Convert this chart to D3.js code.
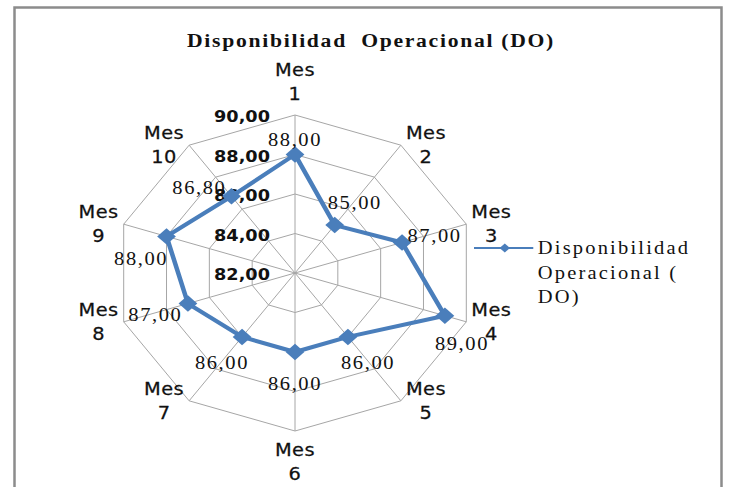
<!DOCTYPE html>
<html>
<head>
<meta charset="utf-8">
<script src="https://cdn.jsdelivr.net/npm/d3@7"></script>
<style>
  html, body { margin: 0; padding: 0; background: #fff; }
  svg { display: block; }
</style>
</head>
<body>
<div id="container"></div>
<script>
const WIDTH = 731,
      HEIGHT = 487;

// data
const months = ["1", "2", "3", "4", "5", "6", "7", "8", "9", "10"];
const values = [88, 85, 87, 89, 86, 86, 86, 87, 88, 86.8];
const ringTicks = [82, 84, 86, 88, 90];
const chartTitle = "Disponibilidad  Operacional (DO)";
const legendLines = ["Disponibilidad", "Operacional (", "DO)"];

const cx = 295, cy = 273, R = 158;
const stretch = 1.14;          // the original picture is drawn wider than tall
const blue = "#4a7ebb";
const grid = "#a6a6a6";
const serif = "'Liberation Serif', 'Times New Roman', serif";

// a few value labels were dragged off their default spot in the original
const labelDir = { 3: 150, 8: 228, 9: 290 };

const fmt = (v) => d3.format(".2f")(v).replace(".", ",");

const svg = d3.select("#container").append("svg")
    .attr("width", WIDTH).attr("height", HEIGHT);

svg.append("rect").attr("width", WIDTH).attr("height", HEIGHT).attr("fill", "#fff");

// outer frame
svg.append("path")
    .attr("d", `M14.5,${HEIGHT + 5} V7.5 H721.5 V${HEIGHT + 5}`)
    .attr("fill", "none")
    .attr("stroke", "#8c8c8c")
    .attr("stroke-width", 2.5);

// title
svg.append("g")
    .attr("transform", `translate(371, 47) scale(${stretch},1)`)
  .append("text")
    .attr("text-anchor", "middle")
    .attr("font-family", serif)
    .attr("font-weight", "bold")
    .attr("font-size", 19)
    .attr("letter-spacing", 1.5)
    .attr("fill", "#111")
    .style("white-space", "pre")
    .text(chartTitle);

const chart = svg.append("g")
    .attr("transform", `translate(${cx}, ${cy}) scale(${stretch},1)`);

const step = 2 * Math.PI / months.length;
const rScale = d3.scaleLinear()
    .domain([ringTicks[0], ringTicks[ringTicks.length - 1]])
    .range([0, R]);

// rings
const ringLine = d3.lineRadial()
    .angle((d, i) => i * step)
    .radius((d) => rScale(d))
    .curve(d3.curveLinearClosed);

chart.selectAll(".ring")
    .data(ringTicks.slice(1))
    .join("path")
    .attr("class", "ring")
    .attr("d", (t) => ringLine(months.map(() => t)))
    .attr("fill", "none")
    .attr("stroke", grid)
    .attr("stroke-width", 1)
    .attr("vector-effect", "non-scaling-stroke");

// spokes
chart.selectAll(".spoke")
    .data(months)
    .join("line")
    .attr("class", "spoke")
    .attr("x1", 0).attr("y1", 0)
    .attr("x2", (d, i) => Math.sin(i * step) * R)
    .attr("y2", (d, i) => -Math.cos(i * step) * R)
    .attr("stroke", grid)
    .attr("stroke-width", 1)
    .attr("vector-effect", "non-scaling-stroke");

// radial tick labels, left of the first spoke
chart.selectAll(".tick")
    .data(ringTicks)
    .join("text")
    .attr("class", "tick")
    .attr("x", -22)
    .attr("y", (t) => -rScale(t) + 2)
    .attr("dy", "0.35em")
    .attr("text-anchor", "end")
    .attr("font-family", "'DejaVu Sans', sans-serif")
    .attr("font-weight", "bold")
    .attr("font-size", 15.5)
    .attr("fill", "#111")
    .text(fmt);

// category labels
chart.selectAll(".cat")
    .data(months)
    .join("text")
    .attr("class", "cat")
    .attr("font-family", "'DejaVu Sans', sans-serif")
    .attr("font-size", 17)
    .attr("letter-spacing", 0.4)
    .attr("fill", "#111")
    .attr("stroke", "#111")
    .attr("stroke-width", 0.25)
    .attr("text-anchor", "middle")
    .each(function (d, i) {
        const a = i * step, s = Math.sin(a), c = Math.cos(a);
        let x = s * R, y = -c * R;
        if (Math.abs(s) < 0.01) {
            y += c > 0 ? -33 : 31;
        } else {
            x += Math.sign(s) * 22;
        }
        const t = d3.select(this);
        t.append("tspan").attr("x", x).attr("y", y - 12).attr("dy", "0.35em").text("Mes");
        t.append("tspan").attr("x", x).attr("y", y + 12).attr("dy", "0.35em").text(d);
    });

// series line
chart.append("path")
    .datum(values)
    .attr("d", ringLine)
    .attr("fill", "none")
    .attr("stroke", blue)
    .attr("stroke-width", 4)
    .attr("stroke-linejoin", "round");

const diamond = d3.symbol().type(d3.symbolSquare).size(135);

chart.selectAll(".marker")
    .data(values)
    .join("path")
    .attr("class", "marker")
    .attr("d", diamond)
    .attr("transform", (v, i) =>
        `translate(${Math.sin(i * step) * rScale(v)}, ${-Math.cos(i * step) * rScale(v)}) rotate(45)`)
    .attr("fill", blue);

// data labels, pushed outward from each point
const labelPos = (v, i) => {
    const r = rScale(v);
    const px = Math.sin(i * step) * r, py = -Math.cos(i * step) * r;
    const a = i in labelDir ? labelDir[i] * Math.PI / 180 : i * step;
    const d = i === 0 ? 17 : 30;
    return [px + Math.sin(a) * d, py - Math.cos(a) * d + 2];
};

chart.selectAll(".val")
    .data(values)
    .join("text")
    .attr("class", "val")
    .attr("x", (v, i) => labelPos(v, i)[0])
    .attr("y", (v, i) => labelPos(v, i)[1])
    .attr("dy", "0.35em")
    .attr("text-anchor", "middle")
    .attr("font-family", serif)
    .attr("font-size", 18)
    .attr("letter-spacing", 1.4)
    .attr("fill", "#111")
    .text(fmt);

// legend
const legend = svg.append("g")
    .attr("transform", `translate(474, 248) scale(${stretch},1)`);

legend.append("line")
    .attr("x1", 0).attr("x2", 52)
    .attr("stroke", blue)
    .attr("stroke-width", 2.2);

legend.append("path")
    .attr("d", d3.symbol().type(d3.symbolSquare).size(42))
    .attr("transform", "translate(27,0) rotate(45)")
    .attr("fill", blue);

legend.selectAll("text")
    .data(legendLines)
    .join("text")
    .attr("x", 56)
    .attr("y", (d, i) => i * 24.5)
    .attr("dy", "0.35em")
    .attr("font-family", serif)
    .attr("font-size", 18)
    .attr("letter-spacing", 1.9)
    .attr("fill", "#111")
    .style("white-space", "pre")
    .text((d) => d);
</script>
</body>
</html>
